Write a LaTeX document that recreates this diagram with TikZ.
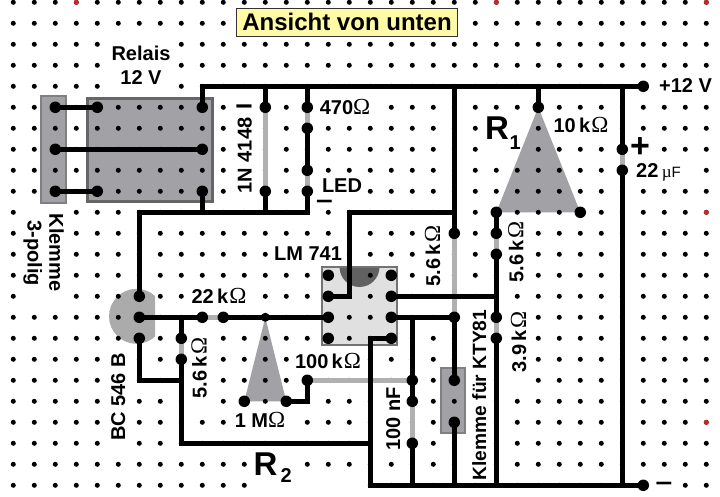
\documentclass[tikz,border=0pt]{standalone}
\usepackage{fontspec}
\setmainfont{Liberation Sans}
\newfontfamily\serf{Liberation Serif}
\newcommand{\hiderow}[2]{\foreach \k in {#2}{\expandafter\gdef\csname hid-\k-#1\endcsname{}}}
\hiderow{2}{5,6,7}
\hiderow{3}{5,6,7}
\hiderow{4}{5,6,7,31,32,33}
\hiderow{5}{11,15,16,17}
\hiderow{6}{11,23,24,26,27,28}
\hiderow{7}{11,23,24,30}
\hiderow{8}{11,30,31,32}
\hiderow{9}{11,15,16}
\hiderow{10}{1,2}
\hiderow{11}{1,2,20,24}
\hiderow{12}{1,2,13,14,15,20,24}
\hiderow{13}{1,2,20,24}
\hiderow{14}{1,2,9,10,11}
\hiderow{15}{22,24}
\hiderow{16}{9,22,24}
\hiderow{17}{5,9,14,15,16,22,24}
\hiderow{18}{5,9,22,24}
\hiderow{19}{5,9,18,22}
\hiderow{20}{5,11,12,13,18,22}
\hiderow{21}{5,18,22}
\hiderow{22}{12,13,22}
\hiderow{23}{12,13,14,15,16,31}
\newcommand{\Ohm}{{\fontsize{23}{24}\serf\mdseries\selectfont Ω}}
\newcommand{\kOhm}{\,k\kern1pt\Ohm}
\definecolor{boardgray}{HTML}{A2A2A6}
\definecolor{lightwire}{HTML}{B0B0B0}
\definecolor{reddot}{HTML}{C82828}
\tikzset{
  x=1pt,y=-1pt,
  wire/.style={line width=4.5pt,black,line join=miter},
  gwire/.style={line width=4.5pt,lightwire},
  hole/.style={circle,fill=black,inner sep=0pt,minimum size=5pt},
  pad/.style={circle,fill=black,inner sep=0pt,minimum size=11.5pt},
  lab/.style={anchor=base,inner sep=0pt,font=\fontsize{20}{24}\bfseries\selectfont},
  labv/.style={lab,rotate=90},
  labd/.style={lab,rotate=-90},
  part/.style={fill=boardgray},
  dashmark/.style={lab,xscale=1.5,yscale=1.3},
}
\begin{document}
\begin{tikzpicture}
\useasboundingbox (0,0) rectangle (720,497);
\foreach \i in {0,...,33}{\foreach \j in {0,...,23}{
  \coordinate (g-\i-\j) at ({13.3+21*\i},{2.3+21*\j});
}}
% parts under the holes
\draw[part,draw=black!60,line width=3pt] (87.8,98.8) rectangle (212.8,201.2);
\draw[part,draw=black!50,line width=2pt] (41.3,96.3) rectangle (65.7,203.3);
\draw[part,draw=black!50,line width=2pt] (440.7,368.3) rectangle (464.7,433.3);
\draw[fill=black!12,draw=black!55,line width=2pt] (321.7,267.3) rectangle (397.3,345);
\begin{scope}
  \clip (322.7,268.3) rectangle (396.3,344);
  \fill[black!62] (359.5,267) circle (20);
\end{scope}
\begin{scope}
  \clip (100,280) rectangle (155,350);
  \fill[black!33] (136.5,316.3) circle (27.5);
\end{scope}
\fill[part] (g-25-5) -- (g-23-10) -- (g-27-10) -- cycle;
\fill[part] (g-12-15) -- (g-11-19) -- (g-13-19) -- cycle;
% perforated board
\foreach \i in {0,...,33}{\foreach \j in {0,...,23}{
  \ifcsname hid-\i-\j\endcsname\else
    \node[hole] (h-\i-\j) at (g-\i-\j) {};
  \fi
}}
\foreach \p in {3-0,23-0,33-0,33-10,33-20}{\node[hole,fill=reddot] (r-\p) at (g-\p) {};}
% components as grey wires
\draw[gwire] (g-12-5) -- (g-12-9);
\draw[gwire] (g-14-5) -- (g-14-6);
\draw[gwire] (g-14-8) -- (g-14-9);
\draw[gwire] (g-29-7) -- (g-29-8);
\draw[gwire] (g-21-11) -- (g-21-15);
\draw[gwire] (g-23-11) -- (g-23-12);
\draw[gwire] (g-23-15) -- (g-23-16);
\draw[gwire] (g-9-15) -- (g-10-15);
\draw[gwire] (g-8-16) -- (g-8-17);
\draw[gwire] (g-14-18) -- (g-19-18);
\draw[gwire] (g-19-19) -- (g-19-21);
% black wires
\draw[wire] (g-9-5) -- (g-9-4) -- (g-30-4);
\draw[wire] (g-12-4) -- (g-12-5);
\draw[wire] (g-14-4) -- (g-14-5);
\draw[wire] (g-14-6) -- (g-14-8);
\draw[wire] (g-21-4) -- (g-21-11);
\draw[wire] (g-25-4) -- (g-25-5);
\draw[wire] (g-29-4) -- (g-29-7);
\draw[wire] (g-29-8) -- (g-29-23);
\draw[wire] (g-6-14) -- (g-6-10) -- (g-14-10) -- (g-14-9);
\draw[wire] (g-9-9) -- (g-9-10);
\draw[wire] (g-12-9) -- (g-12-10);
\draw[wire] (g-2-5) -- (g-4-5);
\draw[wire] (g-2-7) -- (g-9-7);
\draw[wire] (g-2-9) -- (g-4-9);
\draw[wire] (g-15-14) -- (g-16-14) -- (g-16-10) -- (g-21-10);
\draw[wire] (g-18-14) -- (g-23-14);
\draw[wire] (g-18-15) -- (g-21-15) -- (g-21-18);
\draw[wire] (g-19-15) -- (g-19-19);
\draw[wire] (g-19-21) -- (g-19-23);
\draw[wire] (g-21-20) -- (g-21-23);
\draw[wire] (g-23-10) -- (g-23-11);
\draw[wire] (g-23-12) -- (g-23-15);
\draw[wire] (g-23-16) -- (g-23-23);
\draw[wire] (g-18-16) -- (g-17-16) -- (g-17-23) -- (g-30-23);
\draw[wire] (g-6-15) -- (g-9-15);
\draw[wire] (g-10-15) -- (g-15-15);
\draw[wire] (g-8-15) -- (g-8-16);
\draw[wire] (g-8-17) -- (g-8-21) -- (g-17-21);
\draw[wire] (g-6-16) -- (g-6-18) -- (g-8-18);
\draw[wire] (g-13-19) -- (g-14-19) -- (g-14-18);
% pads
\foreach \p in {2-5,2-7,2-9,4-5,4-9,9-5,9-7,9-9,12-5,12-9,14-5,14-6,14-8,14-9,25-5,23-10,27-10,23-11,23-12,21-11,21-15,23-15,23-16,29-7,29-8,30-4,30-23,15-13,15-14,15-15,15-16,18-13,18-14,18-15,18-16,6-14,6-15,6-16,8-16,8-17,9-15,10-15,11-19,13-19,14-18,19-18,19-19,19-21,21-18,21-20}{
  \node[pad] (pad-\p) at (g-\p) {};
}
\node[hole,minimum size=9pt] (pad-12-15) at (g-12-15) {};
% texts
\node[draw=black!80,line width=1pt,fill=yellow!35,minimum width=220.5pt,minimum height=27.5pt,inner sep=0pt] (titlebox) at (347,22.5) {};
\node[lab,font=\fontsize{24}{28}\bfseries\selectfont] (title) at (347,30.5) {Ansicht von unten};
\node[lab] (relais) at (141,60.5) {Relais};
\node[lab] (relv) at (141,84.5) {12 V};
\node[labd] (kl3) at (49.3,252.5) {Klemme};
\node[labd] (pol3) at (27.7,253) {3-polig};
\node[labv] (d1) at (251.7,155.5) {1N 4148};
\node[labv,font=\fontsize{22}{24}\bfseries\selectfont] (d1bar) at (251.7,106.5) {I};
\node[lab] (r470) at (345,115) {470\Ohm};
\node[lab] (led) at (342,193) {LED};
\node[dashmark] (ledm) at (324.5,208.5) {–};
\node[lab] (ic) at (308,260) {LM 741};
\node[lab] (r22k) at (219,303) {22\kOhm};
\node[labv] (r56a) at (206.7,368) {5.6\kOhm};
\node[labv] (bc) at (125,397) {BC 546 B};
\node[lab] (r1m) at (260,427) {1 M\Ohm};
\node[lab] (r100k) at (328,368.7) {100\kOhm};
\node[labv] (c100) at (400,419) {100 nF};
\node[labv,font=\fontsize{19.2}{24}\bfseries\selectfont] (kty) at (486,395) {Klemme für KTY81};
\node[labv] (r56b) at (440,256) {5.6\kOhm};
\node[labv] (r56c) at (523.3,252) {5.6\kOhm};
\node[labv] (r39) at (526,342) {3.9\kOhm};
\node[lab] (r10k) at (581,133) {10\kOhm};
\node[lab,anchor=base west,font=\fontsize{33}{36}\bfseries\selectfont] (rone) at (485,140) {R};
\node[lab,anchor=base west] (ronesub) at (509.5,150) {1};
\node[lab,anchor=base west,font=\fontsize{33}{36}\bfseries\selectfont] (rtwo) at (253.5,475.3) {R};
\node[lab,anchor=base west] (rtwosub) at (280.5,482) {2};
\node[lab] (v12) at (685.5,92.7) {+12 V};
\node[lab,font=\fontsize{34}{34}\bfseries\selectfont] (plus) at (640,158) {+};
\node[lab,anchor=base west] (c22) at (636,178) {22\,{\fontsize{17}{17}\serf\mdseries\selectfont µ\fontsize{15}{15}\rmfamily\selectfont F}};
\node[dashmark] (minus) at (664,490.5) {–};
\end{tikzpicture}
\end{document}
